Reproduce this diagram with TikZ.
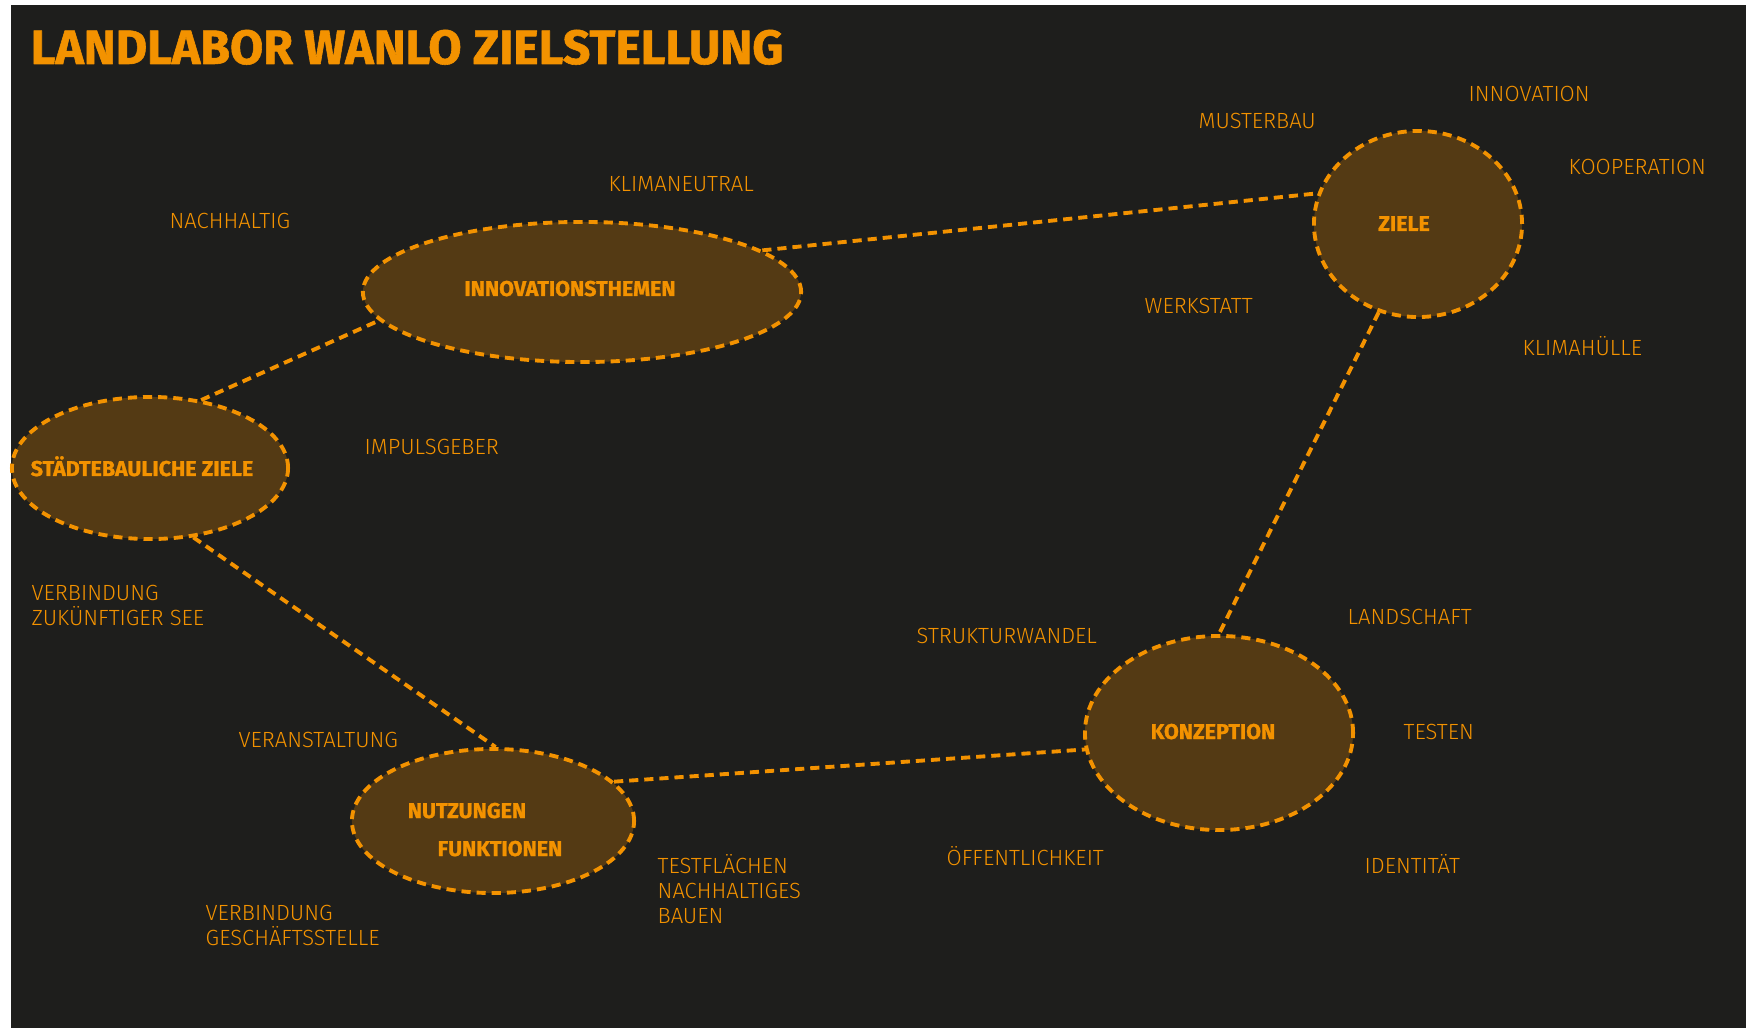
\documentclass[tikz,border=0pt]{standalone}
\usepackage{fontspec}
\setmainfont{Fira Sans}[BoldFeatures={FakeBold=1.2}]
\newfontfamily\thinfont{Fira Sans Light}
\usetikzlibrary{shapes.geometric}
\definecolor{bgdark}{HTML}{1E1E1C}
\definecolor{amber}{HTML}{F39200}
\definecolor{hubfill}{HTML}{543A14}
\tikzset{
  hub/.style 2 args={ellipse, draw=amber, fill=hubfill, line width=1.1pt, dash pattern=on 2.6pt off 1.7pt, minimum width=#1, minimum height=#2, inner sep=0pt},
  link/.style={amber, line width=1.1pt, dash pattern=on 2.6pt off 1.7pt},
  hubtext/.style={text=amber, anchor=base, inner sep=0pt, font=\fontsize{6.1}{7}\selectfont\bfseries},
  tag/.style={text=amber, anchor=base west, inner sep=0pt, align=left, font=\fontsize{6.25}{7.1}\selectfont\thinfont},
}
\begin{document}
\begin{tikzpicture}[x=0.01cm, y=-0.01cm, line join=round]
    \def\W{1746} \def\H{1028} % picture size (px)
    \fill[white] (0,0) rectangle (\W,\H);
    \fill[bgdark] (11,5) rectangle (\W,\H);
    \node[text=amber, anchor=base west, inner sep=0pt, font=\fontsize{13.7}{15}\selectfont\bfseries] (title) at (30,64) {LANDLABOR WANLO ZIELSTELLUNG};
    % hubs
    \node[hub={2.76cm}{1.42cm}] (stadt) at (150,468) {};
    \node[hub={4.38cm}{1.40cm}] (innov) at (582,292) {};
    \node[hub={2.08cm}{1.86cm}] (ziele) at (1418,224) {};
    \node[hub={2.68cm}{1.94cm}] (konz) at (1219,733) {};
    \node[hub={2.82cm}{1.44cm}] (nutz) at (493,821) {};
    \node[hubtext] (stadt-t) at (142,476) {STÄDTEBAULICHE ZIELE};
    \node[hubtext] (innov-t) at (570,296) {INNOVATIONSTHEMEN};
    \node[hubtext] (ziele-t) at (1404,231) {ZIELE};
    \node[hubtext] (konz-t) at (1213,739) {KONZEPTION};
    \node[hubtext] (nutz-t) at (467,818) {NUTZUNGEN};
    \node[hubtext] (funk-t) at (500,856) {FUNKTIONEN};
    % links
    \draw[link] (stadt.53) -- (innov.188);
    \draw[link] (innov.13) -- (ziele.163);
    \draw[link] (ziele.-114) -- (konz.90);
    \draw[link] (stadt.-58) -- (nutz.88);
    \draw[link] (nutz.18) -- (konz.187);
    % keywords (base = last line)
    \node[tag] (nachhaltig) at (169,229) {NACHHALTIG};
    \node[tag] (klimaneutral) at (608,192) {KLIMANEUTRAL};
    \node[tag] (musterbau) at (1198,129) {MUSTERBAU};
    \node[tag] (innovation) at (1468,102) {INNOVATION};
    \node[tag] (kooperation) at (1568,175) {KOOPERATION};
    \node[tag] (klimahuelle) at (1522,356) {KLIMAHÜLLE};
    \node[tag] (werkstatt) at (1144,314) {WERKSTATT};
    \node[tag] (impuls) at (364,455) {IMPULSGEBER};
    \node[tag] (see) at (31,625) {VERBINDUNG\\ZUKÜNFTIGER SEE};
    \node[tag] (wandel) at (916,643) {STRUKTURWANDEL};
    \node[tag] (landschaft) at (1347,624) {LANDSCHAFT};
    \node[tag] (testen) at (1403,739) {TESTEN};
    \node[tag] (identitaet) at (1364,873) {IDENTITÄT};
    \node[tag] (oeffentlich) at (946,865) {ÖFFENTLICHKEIT};
    \node[tag] (veranst) at (238,747) {VERANSTALTUNG};
    \node[tag] (testflaechen) at (657,923) {TESTFLÄCHEN\\NACHHALTIGES\\BAUEN};
    \node[tag] (gschaeft) at (205,945) {VERBINDUNG\\GESCHÄFTSSTELLE};
\end{tikzpicture}
\end{document}
